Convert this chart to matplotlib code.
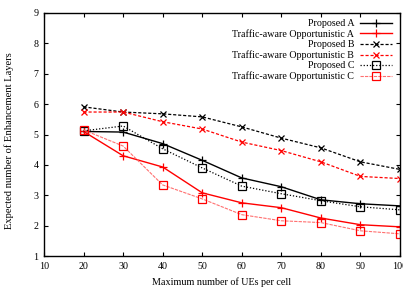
import matplotlib
matplotlib.use("Agg")
import matplotlib.pyplot as plt

x = [20, 30, 40, 50, 60, 70, 80, 90, 100]
proposed_a = [5.10, 5.08, 4.70, 4.15, 3.57, 3.28, 2.85, 2.72, 2.65]
traffic_a = [5.10, 4.30, 3.93, 3.08, 2.75, 2.59, 2.25, 2.03, 1.96]
proposed_b = [5.91, 5.74, 5.68, 5.58, 5.25, 4.88, 4.56, 4.10, 3.85]
traffic_b = [5.74, 5.74, 5.42, 5.18, 4.75, 4.47, 4.10, 3.62, 3.55]
proposed_c = [5.12, 5.28, 4.53, 3.90, 3.30, 3.05, 2.82, 2.62, 2.52]
traffic_c = [5.15, 4.62, 3.34, 2.88, 2.36, 2.16, 2.10, 1.83, 1.73]

plt.rcParams['font.family'] = ['Liberation Serif', 'DejaVu Serif']
plt.rcParams['font.size'] = 7

fig = plt.figure(figsize=(4.03, 2.91), dpi=100)
ax = fig.add_axes([44/403, 35/291, 356/403, 243/291])

ms = 6
ax.plot(x, proposed_a, color='black', lw=1.0, ls='-', marker='+', ms=ms, mew=0.9, label='Proposed A')
ax.plot(x, traffic_a, color='red', lw=1.0, ls='-', marker='+', ms=ms, mew=0.9, label='Traffic-aware Opportunistic A')
ax.plot(x, proposed_b, color='black', lw=0.9, ls=(0, (2.5, 1.5)), marker='x', ms=ms-1, mew=0.9, label='Proposed B')
ax.plot(x, traffic_b, color='red', lw=0.9, ls=(0, (2.5, 1.5)), marker='x', ms=ms-1, mew=0.9, label='Traffic-aware Opportunistic B')
ax.plot(x, proposed_c, color='black', lw=0.9, ls=(0, (1, 1.5)), marker='s', ms=ms, mew=0.9, mfc='none', label='Proposed C')
ax.plot(x, traffic_c, color='#ff7070', lw=0.8, ls=(0, (3, 1)), marker='s', ms=ms, mew=0.9, mfc='none', mec='red', label='Traffic-aware Opportunistic C')

ax.set_xlim(10, 100)
ax.set_ylim(1, 9)
ax.set_xticks(range(10, 101, 10))
ax.set_yticks(range(1, 10))
ax.tick_params(direction='in', top=True, right=True, length=3, width=0.8, labelsize=7.2, pad=4)
for s in ax.spines.values():
    s.set_linewidth(1.0)

ax.set_xlabel('Maximum number of UEs per cell', fontsize=7.3, labelpad=5)
ax.set_ylabel('Expected number of Enhancement Layers', fontsize=7.6, labelpad=9)
ax.yaxis.set_label_coords(-0.085, 0.475)

leg = ax.legend(loc='upper right', frameon=False, markerfirst=False, fontsize=7.2,
                handlelength=3.2, labelspacing=0.12, borderaxespad=0.2, handletextpad=0.6,
                bbox_to_anchor=(0.995, 1.0))

fig.savefig('out.png', dpi=100)
